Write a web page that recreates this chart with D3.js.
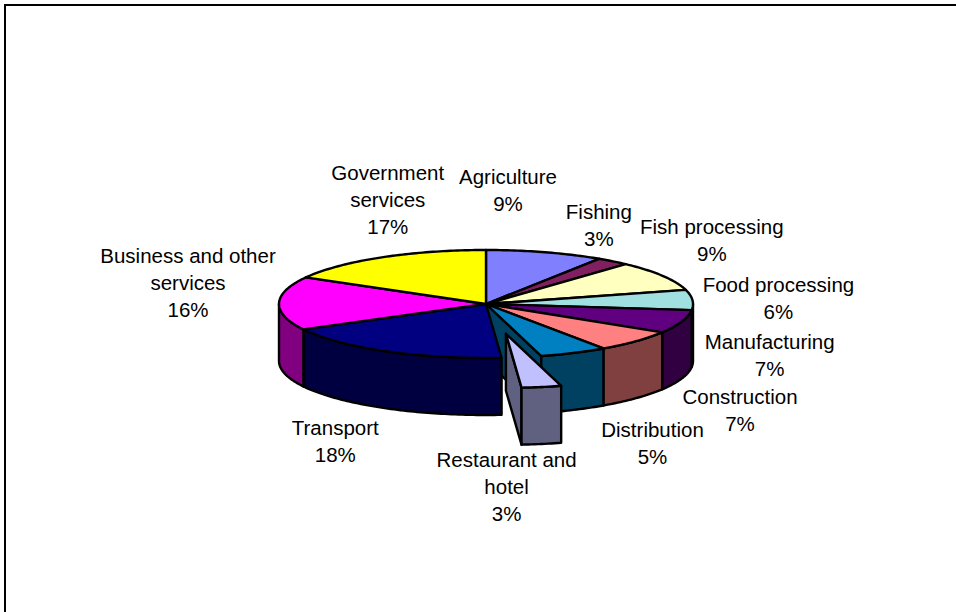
<!DOCTYPE html>
<html>
<head>
<meta charset="utf-8">
<script src="https://cdn.jsdelivr.net/npm/d3@7"></script>
<style>
  body { margin: 0; background: #fff; }
  text { font-family: Arial, "Liberation Sans", sans-serif; font-size: 20.5px; fill: #000; }
</style>
</head>
<body>
<script>
// shares of the economy by sector
var sectors = ["Agriculture", "Fishing", "Fish processing", "Food processing", "Manufacturing",
  "Construction", "Distribution", "Restaurant and hotel", "Transport",
  "Business and other services", "Government services"];
var shares = [9.2, 2.6, 9.0, 6.0, 7.0, 6.6, 5.3, 3.1, 18.4, 16.0, 16.8];
var colours = ["#8080ff", "#802060", "#ffffc0", "#a0e0e0", "#600080", "#ff8080",
  "#0080c0", "#c0c0ff", "#000080", "#ff00ff", "#ffff00"];
var explodedSector = "Restaurant and hotel";

// label nudges (px) away from the rim point at each slice's middle angle
var labelNudge = [[-37, -62], [-14, -36], [49, -36], [86, -2], [88, 34], [104, 69],
  [79, 90], [-15, 130], [-51, 90], [-91, -20], [6, -58]];

var width = 956, height = 612;
var cx = 486, cy = 304, rx = 207, ry = 54, depth = 57, explode = 0.56;
var lineH = 27;

var svg = d3.select("body").append("svg")
    .attr("width", width)
    .attr("height", height);

// chart frame (right and bottom edges fall outside the picture)
svg.append("rect")
    .attr("x", 5).attr("y", 5)
    .attr("width", 1000).attr("height", 700)
    .attr("fill", "none")
    .attr("stroke", "#000")
    .attr("stroke-width", 2);

var data = sectors.map(function (s, i) {
  return { name: s, value: shares[i], color: colours[i], i: i };
});
var pie = d3.pie().sort(null).value(function (d) { return d.value; });
var arcs = pie(data);

function pt(a, z, off) {
  return [cx + off[0] + rx * Math.sin(a), cy + off[1] - ry * Math.cos(a) + z];
}
function arcPts(a0, a1, z, off) {
  var n = Math.max(2, Math.ceil(Math.abs(a1 - a0) / (Math.PI / 180)));
  var p = [];
  for (var k = 0; k <= n; k++) p.push(pt(a0 + (a1 - a0) * k / n, z, off));
  return p;
}
function shade(c) {
  var r = d3.rgb(c);
  return d3.rgb(r.r / 2, r.g / 2, r.b / 2).toString();
}
var line = d3.line();
function closed(p) { return line(p) + "Z"; }

arcs.forEach(function (d) {
  var mid = (d.startAngle + d.endAngle) / 2;
  d.exploded = d.data.name === explodedSector;
  d.off = d.exploded ? [explode * rx * Math.sin(mid), -explode * ry * Math.cos(mid)] : [0, 0];
});

function style(sel) {
  return sel.attr("stroke", "#000")
      .attr("stroke-width", 2.4)
      .attr("stroke-linejoin", "round");
}

function face(g, d, a) {
  var c = [cx + d.off[0], cy + d.off[1]];
  var r = pt(a, 0, d.off);
  var p = [c, r, [r[0], r[1] + depth], [c[0], c[1] + depth]];
  style(g.append("path").attr("d", closed(p)).attr("fill", shade(d.data.color)));
}

function drawSlices(list) {
  var g = svg.append("g");
  // radial faces seen through the gap
  list.forEach(function (d) {
    var n = arcs.length;
    var prev = arcs[(d.index - 1 + n) % n], next = arcs[(d.index + 1) % n];
    if (Math.sin(d.startAngle) < 0 && (d.exploded || prev.exploded)) face(g, d, d.startAngle);
    if (Math.sin(d.endAngle) > 0 && (d.exploded || next.exploded)) face(g, d, d.endAngle);
  });
  // front walls
  list.forEach(function (d) {
    var a0 = Math.max(d.startAngle, Math.PI / 2), a1 = Math.min(d.endAngle, 3 * Math.PI / 2);
    if (a1 <= a0) return;
    var p = arcPts(a0, a1, 0, d.off).concat(arcPts(a1, a0, depth, d.off));
    style(g.append("path").attr("d", closed(p)).attr("fill", shade(d.data.color)));
  });
  // top faces
  list.forEach(function (d) {
    var p = [[cx + d.off[0], cy + d.off[1]]].concat(arcPts(d.startAngle, d.endAngle, 0, d.off));
    style(g.append("path").attr("d", closed(p)).attr("fill", d.data.color));
  });
}

drawSlices(arcs.filter(function (d) { return !d.exploded; }));
drawSlices(arcs.filter(function (d) { return d.exploded; }));

// labels
var meas = svg.append("text").attr("visibility", "hidden");
function wrap(s, maxW) {
  var words = s.split(" "), lines = [], cur = "";
  words.forEach(function (w) {
    var t = cur ? cur + " " + w : w;
    meas.text(t);
    if (cur && meas.node().getComputedTextLength() > maxW) { lines.push(cur); cur = w; }
    else cur = t;
  });
  lines.push(cur);
  return lines;
}

arcs.forEach(function (d, i) {
  var mid = (d.startAngle + d.endAngle) / 2;
  var base = pt(mid, 0, [0, 0]);
  var x = base[0] + labelNudge[i][0], y = base[1] + labelNudge[i][1];
  var lines = wrap(d.data.name, 182).concat([Math.round(d.data.value) + "%"]);
  var t = svg.append("text").attr("text-anchor", "middle");
  lines.forEach(function (l, k) {
    t.append("tspan")
        .attr("x", x)
        .attr("y", y + (k - (lines.length - 1) / 2) * lineH)
        .attr("dy", "0.35em")
        .text(l);
  });
});
meas.remove();
</script>
</body>
</html>
